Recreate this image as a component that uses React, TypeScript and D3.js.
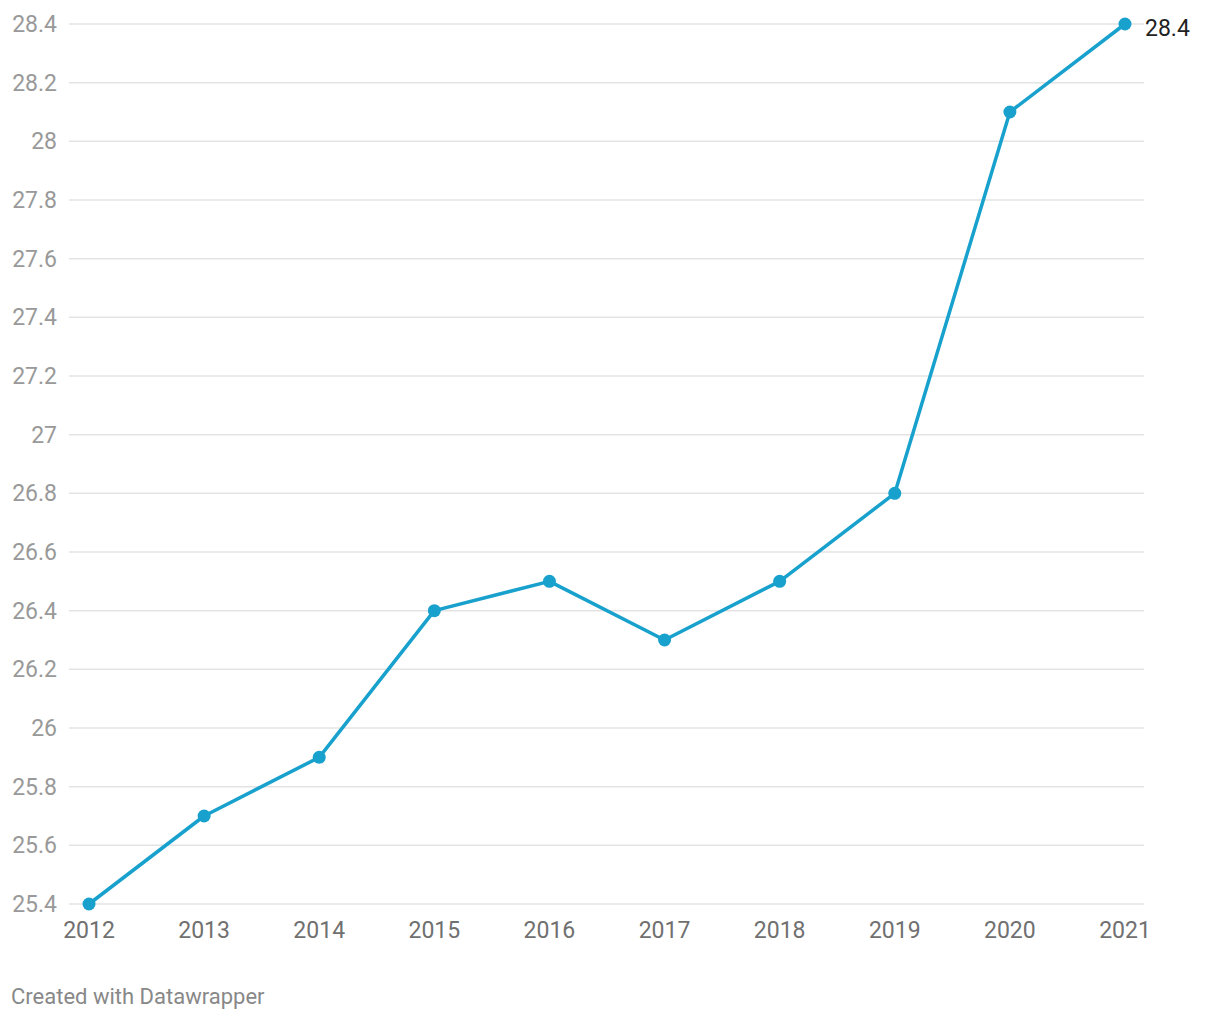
import React from "react";
import * as d3 from "d3";

const years = [2012, 2013, 2014, 2015, 2016, 2017, 2018, 2019, 2020, 2021];
const values = [25.4, 25.7, 25.9, 26.4, 26.5, 26.3, 26.5, 26.8, 28.1, 28.4];
const yTicks = [25.4, 25.6, 25.8, 26, 26.2, 26.4, 26.6, 26.8, 27, 27.2, 27.4, 27.6, 27.8, 28, 28.2, 28.4];

export default function App() {
  const W = 1220, H = 1020;
  const x = d3.scaleLinear().domain([2012, 2021]).range([89, 1125]);
  const y = d3.scaleLinear().domain([25.4, 28.4]).range([904, 24]);
  const line = d3.line<number>().x((_, i) => x(years[i])).y((d) => y(d));
  const font = "Roboto, 'Noto Sans', sans-serif";
  return (
    <svg width={W} height={H} style={{ position: "absolute", left: 0, top: 0, background: "#fff" }} fontFamily={font}>
      {yTicks.map((t) => (
        <g key={t}>
          <line x1={69} x2={1144} y1={y(t)} y2={y(t)} stroke="#e3e3e3" strokeWidth={1.5} />
          <text x={57} y={y(t)} dy="0.35em" textAnchor="end" fontSize={23} fill="#999">
            {d3.format("~g")(t)}
          </text>
        </g>
      ))}
      {years.map((yr) => (
        <text key={yr} x={x(yr)} y={938} textAnchor="middle" fontSize={23} fill="#707070">
          {yr}
        </text>
      ))}
      <path d={line(values) || ""} fill="none" stroke="#18a1cd" strokeWidth={3.5} strokeLinejoin="round" />
      {values.map((v, i) => (
        <circle key={i} cx={x(years[i])} cy={y(v)} r={6.5} fill="#18a1cd" />
      ))}
      <text x={1145} y={y(values[values.length - 1]) + 4} dy="0.35em" fontSize={23} fill="#222">
        {values[values.length - 1]}
      </text>
      <text x={11} y={1004} fontSize={22} fill="#888">
        Created with Datawrapper
      </text>
    </svg>
  );
}
